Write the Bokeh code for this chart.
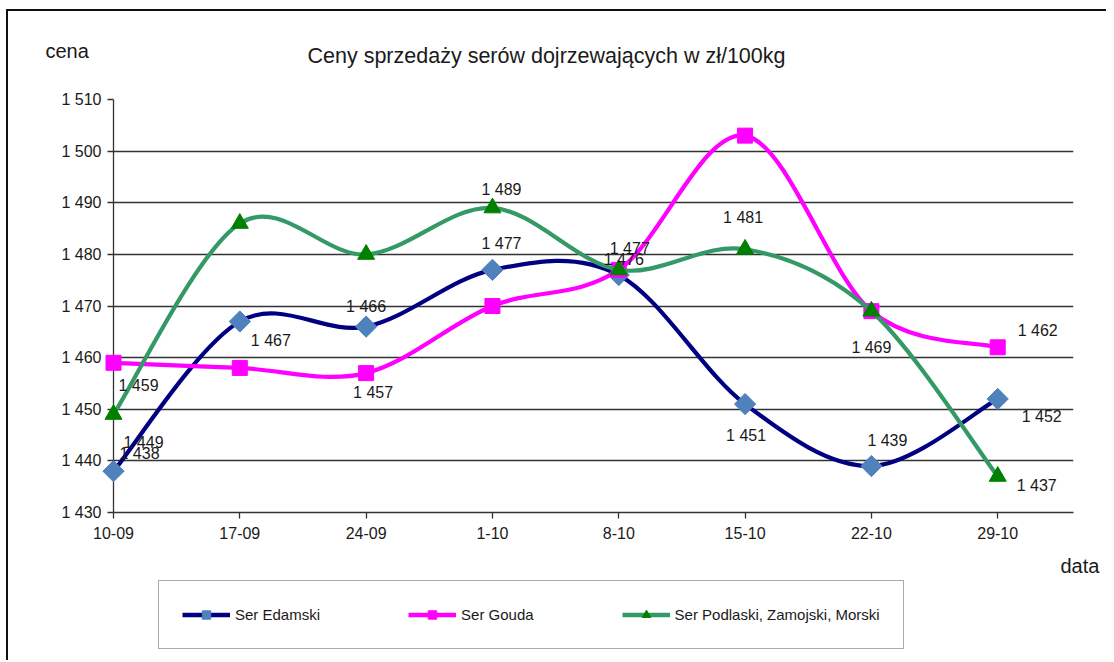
from bokeh.plotting import figure
from bokeh.models import Range1d, FixedTicker, Legend, LegendItem, ColumnDataSource
from bokeh.layouts import column
from bokeh.core.properties import value
from bokeh.embed import file_html
from bokeh.resources import INLINE

# ---------------- data ----------------
dates = ["10-09", "17-09", "24-09", "1-10", "8-10", "15-10", "22-10", "29-10"]
edamski = [1438, 1467, 1466, 1477, 1476, 1451, 1439, 1452]
gouda = [1459, 1458, 1457, 1470, 1477, 1503, 1469, 1462]
podlaski = [1449, 1486, 1480, 1489, 1477, 1481, 1469, 1437]
series_names = ["Ser Edamski", "Ser Gouda", "Ser Podlaski, Zamojski, Morski"]
y_ticks = [1430, 1440, 1450, 1460, 1470, 1480, 1490, 1500, 1510]
y_tick_labels = ["1 430", "1 440", "1 450", "1 460", "1 470", "1 480", "1 490", "1 500", "1 510"]
title_text = "Ceny sprzedaży serów dojrzewających w zł/100kg"
y_title = "cena"
x_title = "data"

# indices of points whose value labels are shown
labelled = [
    [0, 1, 2, 3, 4, 5, 6, 7],
    [0, 2, 4, 7],
    [0, 3, 5, 6, 7],
]

# ---------------- styles ----------------
FONT = "Liberation Sans"
TXT = "#1a1a1a"
line_colors = ["#000080", "#FF00FF", "#339966"]
marker_colors = ["#4F81BD", "#FF00FF", "#008000"]
markers = ["square", "square", "triangle"]
marker_angles = [45, 0, 0]
marker_sizes = [15, 15, 17]
# label placement per shown label: (dx px, dy px, align)
label_place = [
    [(6, -18, "left"), (11, 19, "left"), (0, -20, "center"), (9, -26, "center"),
     (5, -16, "center"), (1, 31, "center"), (16, -26, "center"), (24, 18, "left")],
    [(5, 23, "left"), (7, 19, "center"), (11, -21, "center"), (20, -17, "left")],
    [(10, 28, "left"), (9, -18, "center"), (-2, -32, "center"), (0, 36, "center"), (19, 9, "left")],
]

W, H1, H2 = 1098, 567, 82
p = figure(width=W, height=H1, output_backend="svg", toolbar_location=None,
           x_range=Range1d(0, 7.6), y_range=Range1d(1430, 1510),
           min_border_left=105, min_border_right=33, min_border_top=88, min_border_bottom=66,
           title=title_text)
p.outline_line_color = None
p.background_fill_color = "white"
p.border_fill_color = "white"

# title
p.title.align = "left"
p.title.offset = 194
p.title.vertical_align = "top"
p.title.standoff = 60
p.title.text_font = FONT
p.title.text_font_size = "21.5px"
p.title.text_font_style = "normal"
p.title.text_color = TXT

# axes
p.xaxis.ticker = FixedTicker(ticks=list(range(len(dates))))
p.xaxis.major_label_overrides = {i: d for i, d in enumerate(dates)}
p.yaxis.ticker = FixedTicker(ticks=y_ticks)
p.yaxis.major_label_overrides = {t: s for t, s in zip(y_ticks, y_tick_labels)}
for ax in (p.xaxis, p.yaxis):
    ax.axis_line_color = "#333333"
    ax.axis_line_width = 1.3
    ax.major_tick_line_color = "#333333"
    ax.major_tick_line_width = 1.3
    ax.major_tick_in = 0
    ax.major_tick_out = 6
    ax.minor_tick_line_color = None
    ax.major_label_text_font = FONT
    ax.major_label_text_font_size = "16px"
    ax.major_label_text_color = TXT
p.xaxis.major_label_standoff = 8
p.yaxis.major_label_standoff = 6
p.xgrid.grid_line_color = None
p.ygrid.ticker = FixedTicker(ticks=y_ticks)
p.ygrid.grid_line_color = "#333333"
p.ygrid.grid_line_width = 1.3

# smooth curves (Catmull-Rom Bezier as in spreadsheet "smoothed line")
def bezier_source(ys):
    n = len(ys)
    xs = list(range(n))
    d = dict(x0=[], y0=[], x1=[], y1=[], cx0=[], cy0=[], cx1=[], cy1=[])
    for i in range(n - 1):
        p0 = (xs[max(i - 1, 0)], ys[max(i - 1, 0)])
        p1 = (xs[i], ys[i])
        p2_ = (xs[i + 1], ys[i + 1])
        p3 = (xs[min(i + 2, n - 1)], ys[min(i + 2, n - 1)])
        d["x0"].append(p1[0]); d["y0"].append(p1[1])
        d["x1"].append(p2_[0]); d["y1"].append(p2_[1])
        d["cx0"].append(p1[0] + (p2_[0] - p0[0]) / 6.0)
        d["cy0"].append(p1[1] + (p2_[1] - p0[1]) / 6.0)
        d["cx1"].append(p2_[0] - (p3[0] - p1[0]) / 6.0)
        d["cy1"].append(p2_[1] - (p3[1] - p1[1]) / 6.0)
    return ColumnDataSource(d)

all_series = [edamski, gouda, podlaski]
for k, ys in enumerate(all_series):
    src = bezier_source(ys)
    br = p.bezier(x0="x0", y0="y0", x1="x1", y1="y1", cx0="cx0", cy0="cy0",
                  cx1="cx1", cy1="cy1", source=src, line_color=line_colors[k],
                  line_width=4.2, line_cap="round")
    br.level = "overlay"
    sr = p.scatter(x=list(range(len(ys))), y=ys, marker=markers[k], size=marker_sizes[k],
                   angle=marker_angles[k], angle_units="deg",
                   fill_color=marker_colors[k], line_color=marker_colors[k], line_width=1)
    sr.level = "overlay"

# value labels
for k, ys in enumerate(all_series):
    for j, idx in enumerate(labelled[k]):
        dx, dy, al = label_place[k][j]
        v = ys[idx]
        txt = f"{v // 1000} {v % 1000:03d}"
        t = p.text(x=[idx], y=[v], text=[txt], x_offset=dx, y_offset=dy,
                   text_align=al, text_baseline="middle", text_font=value(FONT),
                   text_font_size="16px", text_color=TXT)
        t.level = "overlay"

# axis titles anchored at the axis ends
ty = p.text(x=[0], y=[y_ticks[-1]], text=[y_title], x_offset=-68, y_offset=-49,
            text_align="left", text_baseline="middle", text_font=value(FONT),
            text_font_size="20px", text_color=TXT)
ty.level = "overlay"
tx = p.text(x=[7.6], y=[y_ticks[0]], text=[x_title], x_offset=-13, y_offset=53,
            text_align="left", text_baseline="middle", text_font=value(FONT),
            text_font_size="20px", text_color=TXT)
tx.level = "overlay"

# legend strip (own small figure, legend in its frame; proxies hold no visible points)
p2 = figure(width=W, height=H2, output_backend="svg", toolbar_location=None,
            x_range=Range1d(0, 1), y_range=Range1d(0, 1),
            x_axis_location=None, y_axis_location=None,
            min_border_left=0, min_border_right=0, min_border_top=0, min_border_bottom=0)
p2.outline_line_color = None
p2.grid.visible = False
nan = float("nan")
items = []
for k in range(len(series_names)):
    lr = p2.line(x=[nan], y=[nan], line_color=line_colors[k], line_width=4.5)
    mr = p2.scatter(x=[nan], y=[nan], marker=markers[k], angle=marker_angles[k], angle_units="deg",
                    size=8, fill_color=marker_colors[k], line_color=marker_colors[k])
    items.append(LegendItem(label=series_names[k], renderers=[lr, mr]))
legend = Legend(items=items, orientation="horizontal", location=(45, 11),
                border_line_color="#555555", border_line_width=1.6,
                background_fill_color="white", background_fill_alpha=1,
                padding=23, margin=0, spacing=88, label_standoff=5,
                glyph_width=48, glyph_height=21,
                label_text_font=FONT, label_text_font_size="15px", label_text_color=TXT)
p2.add_layout(legend)

page = column(p, p2, spacing=0,
              styles={"border-top": "2px solid #111111", "border-left": "2px solid #111111",
                      "margin-left": "6px", "margin-top": "9px"})

open("out.html", "w").write(file_html(page, INLINE))
